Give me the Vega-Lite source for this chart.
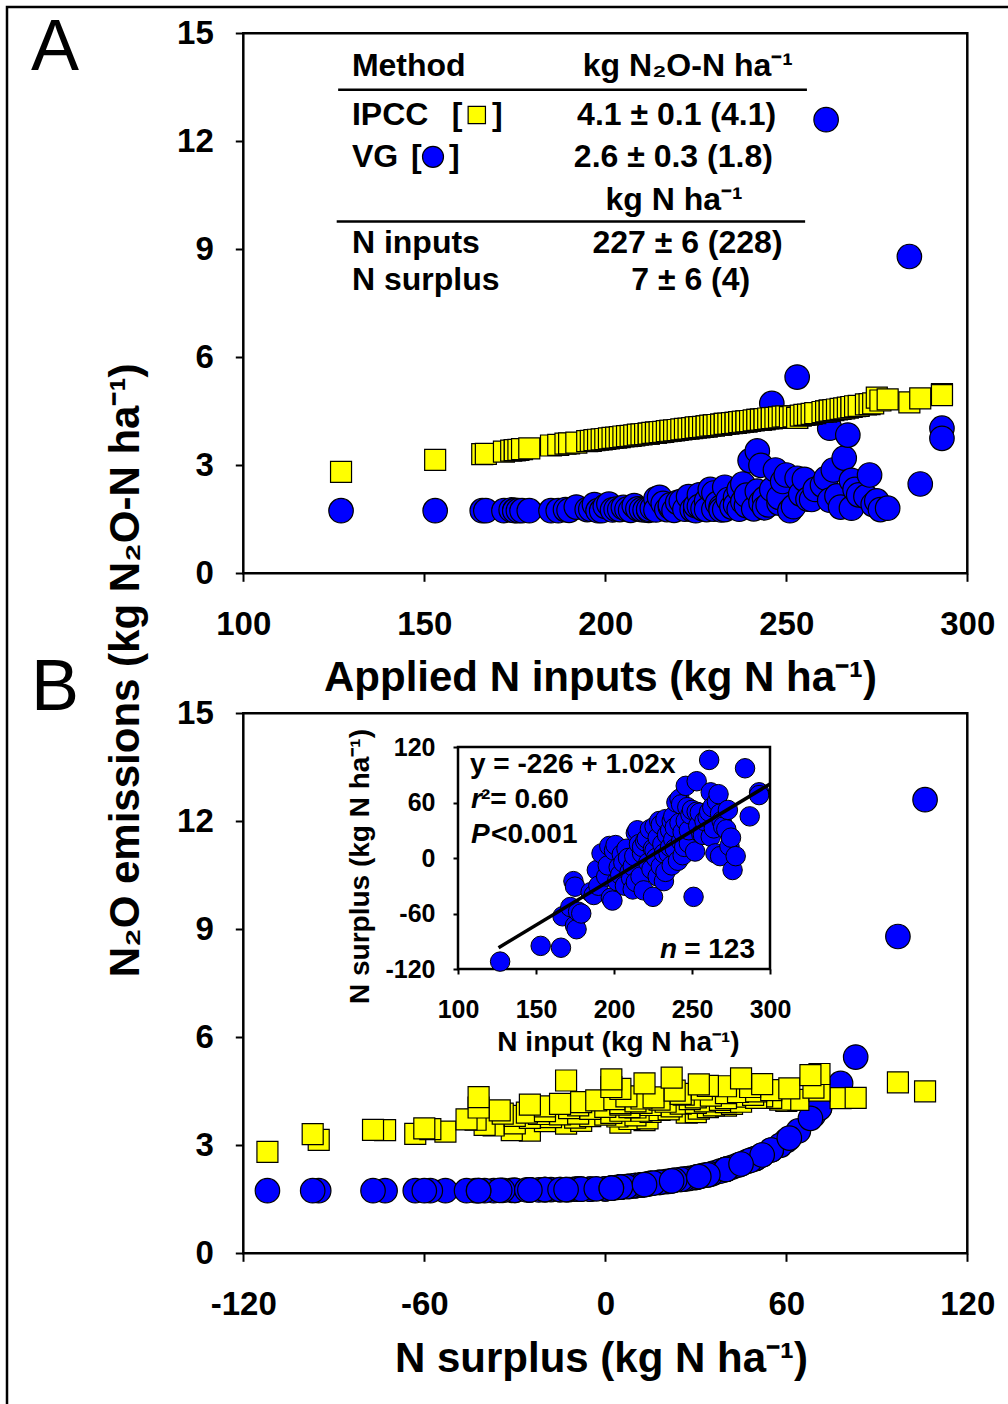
{
  "$schema": "https://vega.github.io/schema/vega-lite/v6.json",
  "width": 1008,
  "height": 1404,
  "autosize": {"type": "none"},
  "padding": 0,
  "background": "white",
  "usermeta": {"embedOptions": {"actions": false}},
  "datasets": {
    "sites": [
      {"input":127,"surplus":-112,"ipcc":2.82,"vg":1.74},
      {"input":153,"surplus":-95,"ipcc":3.15,"vg":1.74},
      {"input":166,"surplus":-97,"ipcc":3.31,"vg":1.74},
      {"input":167,"surplus":-63,"ipcc":3.32,"vg":1.74},
      {"input":172,"surplus":-53,"ipcc":3.38,"vg":1.74},
      {"input":174,"surplus":-25,"ipcc":3.41,"vg":1.76},
      {"input":175,"surplus":-31,"ipcc":3.42,"vg":1.75},
      {"input":175,"surplus":-73,"ipcc":3.42,"vg":1.74},
      {"input":176,"surplus":-77,"ipcc":3.43,"vg":1.74},
      {"input":177,"surplus":-58,"ipcc":3.45,"vg":1.74},
      {"input":179,"surplus":-60,"ipcc":3.47,"vg":1.74},
      {"input":185,"surplus":-37,"ipcc":3.55,"vg":1.74},
      {"input":187,"surplus":-40,"ipcc":3.57,"vg":1.74},
      {"input":189,"surplus":-13,"ipcc":3.60,"vg":1.77},
      {"input":190,"surplus":-30,"ipcc":3.61,"vg":1.75},
      {"input":192,"surplus":5,"ipcc":3.63,"vg":1.84},
      {"input":195,"surplus":-20,"ipcc":3.67,"vg":1.77},
      {"input":196,"surplus":-8,"ipcc":3.68,"vg":1.78},
      {"input":197,"surplus":13,"ipcc":3.70,"vg":1.91},
      {"input":198,"surplus":-43,"ipcc":3.71,"vg":1.74},
      {"input":199,"surplus":-46,"ipcc":3.72,"vg":1.74},
      {"input":200,"surplus":8,"ipcc":3.73,"vg":1.86},
      {"input":201,"surplus":14,"ipcc":3.75,"vg":1.92},
      {"input":202,"surplus":-25,"ipcc":3.76,"vg":1.76},
      {"input":203,"surplus":-10,"ipcc":3.77,"vg":1.78},
      {"input":204,"surplus":-18,"ipcc":3.78,"vg":1.77},
      {"input":205,"surplus":4,"ipcc":3.80,"vg":1.83},
      {"input":206,"surplus":-5,"ipcc":3.81,"vg":1.78},
      {"input":207,"surplus":-30,"ipcc":3.82,"vg":1.75},
      {"input":208,"surplus":10,"ipcc":3.83,"vg":1.88},
      {"input":209,"surplus":0,"ipcc":3.85,"vg":1.79},
      {"input":210,"surplus":-15,"ipcc":3.86,"vg":1.77},
      {"input":211,"surplus":-22,"ipcc":3.87,"vg":1.76},
      {"input":212,"surplus":-34,"ipcc":3.88,"vg":1.75},
      {"input":212,"surplus":-9,"ipcc":3.88,"vg":1.78},
      {"input":213,"surplus":2,"ipcc":3.90,"vg":1.81},
      {"input":214,"surplus":27,"ipcc":3.91,"vg":2.07},
      {"input":214,"surplus":-26,"ipcc":3.91,"vg":1.76},
      {"input":215,"surplus":30,"ipcc":3.92,"vg":2.11},
      {"input":216,"surplus":15,"ipcc":3.93,"vg":1.94},
      {"input":217,"surplus":-20,"ipcc":3.95,"vg":1.77},
      {"input":218,"surplus":5,"ipcc":3.96,"vg":1.84},
      {"input":218,"surplus":12,"ipcc":3.96,"vg":1.90},
      {"input":219,"surplus":-35,"ipcc":3.97,"vg":1.75},
      {"input":220,"surplus":18,"ipcc":3.98,"vg":1.97},
      {"input":221,"surplus":21,"ipcc":4.00,"vg":2.00},
      {"input":222,"surplus":-5,"ipcc":4.01,"vg":1.78},
      {"input":223,"surplus":31,"ipcc":4.02,"vg":2.13},
      {"input":224,"surplus":-12,"ipcc":4.03,"vg":1.77},
      {"input":225,"surplus":-42,"ipcc":4.05,"vg":1.74},
      {"input":225,"surplus":10,"ipcc":4.05,"vg":1.88},
      {"input":226,"surplus":34,"ipcc":4.06,"vg":2.18},
      {"input":226,"surplus":8,"ipcc":4.06,"vg":1.86},
      {"input":227,"surplus":0,"ipcc":4.07,"vg":1.79},
      {"input":228,"surplus":22,"ipcc":4.08,"vg":2.01},
      {"input":228,"surplus":-20,"ipcc":4.08,"vg":1.77},
      {"input":229,"surplus":40,"ipcc":4.10,"vg":2.33},
      {"input":230,"surplus":-9,"ipcc":4.11,"vg":1.78},
      {"input":230,"surplus":36,"ipcc":4.11,"vg":2.23},
      {"input":231,"surplus":15,"ipcc":4.12,"vg":1.94},
      {"input":232,"surplus":5,"ipcc":4.13,"vg":1.84},
      {"input":232,"surplus":-25,"ipcc":4.13,"vg":1.76},
      {"input":233,"surplus":42,"ipcc":4.15,"vg":2.39},
      {"input":233,"surplus":-15,"ipcc":4.15,"vg":1.77},
      {"input":234,"surplus":25,"ipcc":4.16,"vg":2.05},
      {"input":235,"surplus":5,"ipcc":4.17,"vg":1.84},
      {"input":236,"surplus":30,"ipcc":4.18,"vg":2.11},
      {"input":236,"surplus":12,"ipcc":4.18,"vg":1.90},
      {"input":237,"surplus":40,"ipcc":4.20,"vg":2.33},
      {"input":237,"surplus":-8,"ipcc":4.20,"vg":1.78},
      {"input":238,"surplus":20,"ipcc":4.21,"vg":1.99},
      {"input":238,"surplus":45,"ipcc":4.21,"vg":2.48},
      {"input":239,"surplus":10,"ipcc":4.22,"vg":1.88},
      {"input":239,"surplus":33,"ipcc":4.22,"vg":2.17},
      {"input":240,"surplus":60,"ipcc":4.23,"vg":3.13},
      {"input":241,"surplus":-3,"ipcc":4.25,"vg":1.79},
      {"input":242,"surplus":64,"ipcc":4.26,"vg":3.40},
      {"input":242,"surplus":38,"ipcc":4.26,"vg":2.28},
      {"input":243,"surplus":58,"ipcc":4.27,"vg":3.00},
      {"input":243,"surplus":18,"ipcc":4.27,"vg":1.97},
      {"input":244,"surplus":28,"ipcc":4.28,"vg":2.08},
      {"input":244,"surplus":3,"ipcc":4.28,"vg":1.82},
      {"input":245,"surplus":12,"ipcc":4.30,"vg":1.90},
      {"input":246,"surplus":78,"ipcc":4.31,"vg":4.72},
      {"input":246,"surplus":40,"ipcc":4.31,"vg":2.33},
      {"input":247,"surplus":55,"ipcc":4.32,"vg":2.87},
      {"input":248,"surplus":16,"ipcc":4.33,"vg":1.95},
      {"input":248,"surplus":30,"ipcc":4.33,"vg":2.11},
      {"input":249,"surplus":47,"ipcc":4.35,"vg":2.55},
      {"input":250,"surplus":52,"ipcc":4.36,"vg":2.73},
      {"input":251,"surplus":-42,"ipcc":4.34,"vg":1.74},
      {"input":252,"surplus":7,"ipcc":4.36,"vg":1.85},
      {"input":253,"surplus":83,"ipcc":4.32,"vg":5.45},
      {"input":253,"surplus":50,"ipcc":4.32,"vg":2.64},
      {"input":254,"surplus":35,"ipcc":4.38,"vg":2.20},
      {"input":255,"surplus":49,"ipcc":4.40,"vg":2.61},
      {"input":256,"surplus":26,"ipcc":4.41,"vg":2.06},
      {"input":257,"surplus":25,"ipcc":4.43,"vg":2.05},
      {"input":258,"surplus":40,"ipcc":4.45,"vg":2.33},
      {"input":260,"surplus":44,"ipcc":4.48,"vg":2.45},
      {"input":261,"surplus":106,"ipcc":4.50,"vg":12.6},
      {"input":261,"surplus":50,"ipcc":4.50,"vg":2.64},
      {"input":262,"surplus":71,"ipcc":4.52,"vg":4.03},
      {"input":262,"surplus":23,"ipcc":4.52,"vg":2.03},
      {"input":263,"surplus":55,"ipcc":4.53,"vg":2.87},
      {"input":264,"surplus":32,"ipcc":4.55,"vg":2.15},
      {"input":265,"surplus":5,"ipcc":4.57,"vg":1.84},
      {"input":266,"surplus":61,"ipcc":4.58,"vg":3.20},
      {"input":267,"surplus":69,"ipcc":4.60,"vg":3.84},
      {"input":268,"surplus":2,"ipcc":4.62,"vg":1.81},
      {"input":268,"surplus":48,"ipcc":4.62,"vg":2.58},
      {"input":269,"surplus":40,"ipcc":4.64,"vg":2.33},
      {"input":270,"surplus":34,"ipcc":4.65,"vg":2.18},
      {"input":272,"surplus":31,"ipcc":4.69,"vg":2.13},
      {"input":273,"surplus":52,"ipcc":4.70,"vg":2.73},
      {"input":274,"surplus":13,"ipcc":4.72,"vg":1.91},
      {"input":275,"surplus":22,"ipcc":4.88,"vg":2.01},
      {"input":276,"surplus":-13,"ipcc":4.80,"vg":1.77},
      {"input":278,"surplus":2,"ipcc":4.83,"vg":1.81},
      {"input":284,"surplus":97,"ipcc":4.75,"vg":8.8},
      {"input":287,"surplus":45,"ipcc":4.86,"vg":2.48},
      {"input":293,"surplus":71,"ipcc":4.98,"vg":4.03},
      {"input":293,"surplus":68,"ipcc":4.95,"vg":3.75}
    ],
    "fit": [
      {"input":126,"surplus":-97},
      {"input":300,"surplus":80}
    ]
  },
  "config": {
    "view": {"stroke": null},
    "font": "Liberation Sans",
    "axis": {
      "grid": false, "domain": false, "ticks": true, "zindex": 2,
      "tickColor": "black", "tickWidth": 2,
      "labelFont": "Liberation Sans", "labelFontWeight": "bold", "labelColor": "black",
      "titleFont": "Liberation Sans", "titleFontWeight": "bold", "titleColor": "black",
      "labelFlush": false, "labelOverlap": false, "labelBound": false
    },
    "text": {"font": "Liberation Sans", "fontWeight": "bold", "color": "black"}
  },
  "resolve": {
    "scale": {"x": "independent", "y": "independent"},
    "axis": {"x": "independent", "y": "independent"}
  },
  "layer": [
    {
      "data": {"values": [{}]},
      "mark": {"type": "rect", "filled": false, "color": "black", "strokeWidth": 2.5},
      "encoding": {
        "x": {"datum": 0, "type": "quantitative", "scale": {"domain": [0, 1], "range": [7, 1100], "nice": false, "zero": false}, "axis": null},
        "x2": {"datum": 1},
        "y": {"datum": 0, "type": "quantitative", "scale": {"domain": [0, 1], "range": [7, 1500], "nice": false, "zero": false}, "axis": null},
        "y2": {"datum": 1}
      }
    },
    {
      "data": {"values": [{}]},
      "mark": {"type": "rect", "filled": false, "color": "black", "strokeWidth": 2.5},
      "encoding": {
        "x": {"datum": 100, "type": "quantitative", "scale": {"domain": [100, 300], "range": [243.3, 967.3], "nice": false, "zero": false}, "axis": null},
        "x2": {"datum": 300},
        "y": {"datum": 0, "type": "quantitative", "scale": {"domain": [0, 15], "range": [573.3, 33.3], "nice": false, "zero": false}, "axis": null},
        "y2": {"datum": 15}
      }
    },
    {
      "data": {"name": "sites"},
      "mark": {"type": "circle", "size": 600, "color": "#0000ff", "opacity": 1, "stroke": "black", "strokeWidth": 1.2},
      "encoding": {
        "x": {"field": "input", "type": "quantitative",
          "scale": {"domain": [100, 300], "range": [243.3, 967.3], "nice": false, "zero": false},
          "axis": {"orient": "bottom", "offset": -830.7, "zindex": 2, "values": [100, 150, 200, 250, 300], "tickSize": 8,
            "labelFontSize": 33, "labelPadding": 27, "labelExpr": "'' + datum.value",
            "title": "Applied N inputs (kg N ha⁻¹)", "titleFontSize": 42, "titleX": 600, "titleY": 104,
            "titleBaseline": "middle", "titleAlign": "center"}},
        "y": {"field": "vg", "type": "quantitative",
          "scale": {"domain": [0, 15], "range": [573.3, 33.3], "nice": false, "zero": false},
          "axis": {"orient": "left", "offset": -243.3, "zindex": 2, "values": [0, 3, 6, 9, 12, 15], "tickSize": 8,
            "labelFontSize": 33, "labelPadding": 22,
            "title": "N₂O emissions (kg N₂O-N ha⁻¹)", "titleFontSize": 42, "titleX": -118, "titleY": 670,
            "titleBaseline": "middle", "titleAlign": "center", "titleAngle": 270}}
      }
    },
    {
      "layer": [
        {
          "data": {"name": "sites"},
          "mark": {"type": "square", "size": 441, "color": "#ffff00", "opacity": 1, "stroke": "black", "strokeWidth": 1.2},
          "encoding": {
            "x": {"field": "input", "type": "quantitative", "scale": {"domain": [100, 300], "range": [243.3, 967.3], "nice": false, "zero": false}, "axis": null},
            "y": {"field": "ipcc", "type": "quantitative", "scale": {"domain": [0, 15], "range": [573.3, 33.3], "nice": false, "zero": false}, "axis": null}
          }
        },
        {
          "data": {"values": [{}]},
          "mark": {"type": "text", "fontSize": 72, "fontWeight": "normal", "align": "center", "baseline": "middle"},
          "encoding": {"x": {"datum": 48, "axis": null}, "y": {"datum": 14.59, "axis": null}, "text": {"value": "A"}}
        },
        {
          "data": {"values": [{}]},
          "mark": {"type": "text", "fontSize": 32, "align": "left", "baseline": "middle"},
          "encoding": {"x": {"datum": 130, "axis": null}, "y": {"datum": 14.09, "axis": null}, "text": {"value": "Method"}}
        },
        {
          "data": {"values": [{}]},
          "mark": {"type": "text", "fontSize": 32, "align": "center", "baseline": "middle"},
          "encoding": {"x": {"datum": 222.8, "axis": null}, "y": {"datum": 14.09, "axis": null}, "text": {"value": "kg N₂O-N ha⁻¹"}}
        },
        {
          "data": {"values": [{}]},
          "mark": {"type": "rule", "strokeWidth": 2.5, "color": "black"},
          "encoding": {"x": {"datum": 126.2, "axis": null}, "x2": {"datum": 255.7}, "y": {"datum": 13.43, "axis": null}}
        },
        {
          "data": {"values": [{}]},
          "mark": {"type": "text", "fontSize": 32, "align": "left", "baseline": "middle"},
          "encoding": {"x": {"datum": 130, "axis": null}, "y": {"datum": 12.73, "axis": null}, "text": {"value": "IPCC"}}
        },
        {
          "data": {"values": [{}]},
          "mark": {"type": "text", "fontSize": 32, "align": "left", "baseline": "middle"},
          "encoding": {"x": {"datum": 157.6, "axis": null}, "y": {"datum": 12.73, "axis": null}, "text": {"value": "["}}
        },
        {
          "data": {"values": [{}]},
          "mark": {"type": "text", "fontSize": 32, "align": "left", "baseline": "middle"},
          "encoding": {"x": {"datum": 168.7, "axis": null}, "y": {"datum": 12.73, "axis": null}, "text": {"value": "]"}}
        },
        {
          "data": {"values": [{}]},
          "mark": {"type": "square", "size": 300, "color": "#ffff00", "opacity": 1, "stroke": "black", "strokeWidth": 1.2},
          "encoding": {"x": {"datum": 164.5, "axis": null}, "y": {"datum": 12.73, "axis": null}}
        },
        {
          "data": {"values": [{}]},
          "mark": {"type": "text", "fontSize": 32, "align": "center", "baseline": "middle"},
          "encoding": {"x": {"datum": 219.7, "axis": null}, "y": {"datum": 12.73, "axis": null}, "text": {"value": "4.1 ± 0.1 (4.1)"}}
        },
        {
          "data": {"values": [{}]},
          "mark": {"type": "text", "fontSize": 32, "align": "left", "baseline": "middle"},
          "encoding": {"x": {"datum": 130, "axis": null}, "y": {"datum": 11.57, "axis": null}, "text": {"value": "VG"}}
        },
        {
          "data": {"values": [{}]},
          "mark": {"type": "text", "fontSize": 32, "align": "left", "baseline": "middle"},
          "encoding": {"x": {"datum": 146.3, "axis": null}, "y": {"datum": 11.57, "axis": null}, "text": {"value": "["}}
        },
        {
          "data": {"values": [{}]},
          "mark": {"type": "text", "fontSize": 32, "align": "left", "baseline": "middle"},
          "encoding": {"x": {"datum": 156.8, "axis": null}, "y": {"datum": 11.57, "axis": null}, "text": {"value": "]"}}
        },
        {
          "data": {"values": [{}]},
          "mark": {"type": "circle", "size": 441, "color": "#0000ff", "opacity": 1, "stroke": "black", "strokeWidth": 1.2},
          "encoding": {"x": {"datum": 152.4, "axis": null}, "y": {"datum": 11.57, "axis": null}}
        },
        {
          "data": {"values": [{}]},
          "mark": {"type": "text", "fontSize": 32, "align": "center", "baseline": "middle"},
          "encoding": {"x": {"datum": 218.8, "axis": null}, "y": {"datum": 11.57, "axis": null}, "text": {"value": "2.6 ± 0.3 (1.8)"}}
        },
        {
          "data": {"values": [{}]},
          "mark": {"type": "text", "fontSize": 32, "align": "center", "baseline": "middle"},
          "encoding": {"x": {"datum": 219, "axis": null}, "y": {"datum": 10.37, "axis": null}, "text": {"value": "kg N ha⁻¹"}}
        },
        {
          "data": {"values": [{}]},
          "mark": {"type": "rule", "strokeWidth": 2.5, "color": "black"},
          "encoding": {"x": {"datum": 125.8, "axis": null}, "x2": {"datum": 255.2}, "y": {"datum": 9.77, "axis": null}}
        },
        {
          "data": {"values": [{}]},
          "mark": {"type": "text", "fontSize": 32, "align": "left", "baseline": "middle"},
          "encoding": {"x": {"datum": 130, "axis": null}, "y": {"datum": 9.17, "axis": null}, "text": {"value": "N inputs"}}
        },
        {
          "data": {"values": [{}]},
          "mark": {"type": "text", "fontSize": 32, "align": "center", "baseline": "middle"},
          "encoding": {"x": {"datum": 222.7, "axis": null}, "y": {"datum": 9.17, "axis": null}, "text": {"value": "227 ± 6 (228)"}}
        },
        {
          "data": {"values": [{}]},
          "mark": {"type": "text", "fontSize": 32, "align": "left", "baseline": "middle"},
          "encoding": {"x": {"datum": 130, "axis": null}, "y": {"datum": 8.15, "axis": null}, "text": {"value": "N surplus"}}
        },
        {
          "data": {"values": [{}]},
          "mark": {"type": "text", "fontSize": 32, "align": "center", "baseline": "middle"},
          "encoding": {"x": {"datum": 223.6, "axis": null}, "y": {"datum": 8.15, "axis": null}, "text": {"value": "7 ± 6 (4)"}}
        }
      ]
    },
    {
      "data": {"values": [{}]},
      "mark": {"type": "rect", "filled": false, "color": "black", "strokeWidth": 2.5},
      "encoding": {
        "x": {"datum": -120, "type": "quantitative", "scale": {"domain": [-120, 120], "range": [243.3, 967.3], "nice": false, "zero": false}, "axis": null},
        "x2": {"datum": 120},
        "y": {"datum": 0, "type": "quantitative", "scale": {"domain": [0, 15], "range": [1253.3, 713.3], "nice": false, "zero": false}, "axis": null},
        "y2": {"datum": 15}
      }
    },
    {
      "data": {"name": "sites"},
      "mark": {"type": "circle", "size": 600, "color": "#0000ff", "opacity": 1, "stroke": "black", "strokeWidth": 1.2},
      "encoding": {
        "x": {"field": "surplus", "type": "quantitative",
          "scale": {"domain": [-120, 120], "range": [243.3, 967.3], "nice": false, "zero": false},
          "axis": {"orient": "bottom", "offset": -150.7, "zindex": 2, "values": [-120, -60, 0, 60, 120], "tickSize": 8,
            "labelFontSize": 33, "labelPadding": 27, "labelExpr": "'' + datum.value",
            "title": "N surplus (kg N ha⁻¹)", "titleFontSize": 42, "titleX": 601, "titleY": 105,
            "titleBaseline": "middle", "titleAlign": "center"}},
        "y": {"field": "vg", "type": "quantitative",
          "scale": {"domain": [0, 15], "range": [1253.3, 713.3], "nice": false, "zero": false},
          "axis": {"orient": "left", "offset": -243.3, "zindex": 2, "values": [0, 3, 6, 9, 12, 15], "tickSize": 8,
            "labelFontSize": 33, "labelPadding": 22, "title": null}}
      }
    },
    {
      "layer": [
        {
          "data": {"name": "sites"},
          "mark": {"type": "square", "size": 441, "color": "#ffff00", "opacity": 1, "stroke": "black", "strokeWidth": 1.2},
          "encoding": {
            "x": {"field": "surplus", "type": "quantitative", "scale": {"domain": [-120, 120], "range": [243.3, 967.3], "nice": false, "zero": false}, "axis": null},
            "y": {"field": "ipcc", "type": "quantitative", "scale": {"domain": [0, 15], "range": [1253.3, 713.3], "nice": false, "zero": false}, "axis": null}
          }
        },
        {
          "data": {"values": [{}]},
          "mark": {"type": "text", "fontSize": 72, "fontWeight": "normal", "align": "center", "baseline": "middle"},
          "encoding": {"x": {"datum": -182.4, "axis": null}, "y": {"datum": 15.7, "axis": null}, "text": {"value": "B"}}
        }
      ]
    },
    {
      "data": {"values": [{}]},
      "mark": {"type": "rect", "filled": false, "color": "black", "strokeWidth": 2.5},
      "encoding": {
        "x": {"datum": 100, "type": "quantitative", "scale": {"domain": [100, 300], "range": [458, 770], "nice": false, "zero": false}, "axis": null},
        "x2": {"datum": 300},
        "y": {"datum": -120, "type": "quantitative", "scale": {"domain": [-120, 120], "range": [969, 747], "nice": false, "zero": false}, "axis": null},
        "y2": {"datum": 120}
      }
    },
    {
      "data": {"name": "sites"},
      "mark": {"type": "circle", "size": 380, "color": "#0000ff", "opacity": 1, "stroke": "black", "strokeWidth": 1},
      "encoding": {
        "x": {"field": "input", "type": "quantitative",
          "scale": {"domain": [100, 300], "range": [458, 770], "nice": false, "zero": false},
          "axis": {"orient": "bottom", "offset": -435, "zindex": 2, "values": [100, 150, 200, 250, 300], "tickSize": 5,
            "labelFontSize": 25, "labelPadding": 23,
            "title": "N input (kg N ha⁻¹)", "titleFontSize": 28, "titleX": 618, "titleY": 73,
            "titleBaseline": "middle", "titleAlign": "center"}},
        "y": {"field": "surplus", "type": "quantitative",
          "scale": {"domain": [-120, 120], "range": [969, 747], "nice": false, "zero": false},
          "axis": {"orient": "left", "offset": -458, "zindex": 2, "values": [-120, -60, 0, 60, 120], "tickSize": 5,
            "labelFontSize": 25, "labelPadding": 18, "labelExpr": "'' + datum.value",
            "title": "N surplus (kg N ha⁻¹)", "titleFontSize": 28, "titleX": -98, "titleY": 866,
            "titleBaseline": "middle", "titleAlign": "center", "titleAngle": 270}}
      }
    },
    {
      "layer": [
        {
          "data": {"name": "fit"},
          "mark": {"type": "line", "color": "black", "strokeWidth": 3.5},
          "encoding": {
            "x": {"field": "input", "type": "quantitative", "scale": {"domain": [100, 300], "range": [458, 770], "nice": false, "zero": false}, "axis": null},
            "y": {"field": "surplus", "type": "quantitative", "scale": {"domain": [-120, 120], "range": [969, 747], "nice": false, "zero": false}, "axis": null}
          }
        },
        {
          "data": {"values": [{}]},
          "mark": {"type": "text", "fontSize": 28, "align": "left", "baseline": "middle"},
          "encoding": {"x": {"datum": 107.7, "axis": null}, "y": {"datum": 100.5, "axis": null}, "text": {"value": "y = -226 + 1.02x"}}
        },
        {
          "data": {"values": [{}]},
          "mark": {"type": "text", "fontSize": 28, "fontStyle": "italic", "align": "left", "baseline": "middle"},
          "encoding": {"x": {"datum": 108.3, "axis": null}, "y": {"datum": 62.7, "axis": null}, "text": {"value": "r"}}
        },
        {
          "data": {"values": [{}]},
          "mark": {"type": "text", "fontSize": 28, "align": "left", "baseline": "middle"},
          "encoding": {"x": {"datum": 114.7, "axis": null}, "y": {"datum": 62.7, "axis": null}, "text": {"value": "²= 0.60"}}
        },
        {
          "data": {"values": [{}]},
          "mark": {"type": "text", "fontSize": 28, "fontStyle": "italic", "align": "left", "baseline": "middle"},
          "encoding": {"x": {"datum": 108.3, "axis": null}, "y": {"datum": 24.9, "axis": null}, "text": {"value": "P"}}
        },
        {
          "data": {"values": [{}]},
          "mark": {"type": "text", "fontSize": 28, "align": "left", "baseline": "middle"},
          "encoding": {"x": {"datum": 121.2, "axis": null}, "y": {"datum": 24.9, "axis": null}, "text": {"value": "<0.001"}}
        },
        {
          "data": {"values": [{}]},
          "mark": {"type": "text", "fontSize": 28, "fontStyle": "italic", "align": "left", "baseline": "middle"},
          "encoding": {"x": {"datum": 229.5, "axis": null}, "y": {"datum": -99.5, "axis": null}, "text": {"value": "n"}}
        },
        {
          "data": {"values": [{}]},
          "mark": {"type": "text", "fontSize": 28, "align": "right", "baseline": "middle"},
          "encoding": {"x": {"datum": 290.4, "axis": null}, "y": {"datum": -99.5, "axis": null}, "text": {"value": "= 123"}}
        }
      ]
    }
  ]
}
